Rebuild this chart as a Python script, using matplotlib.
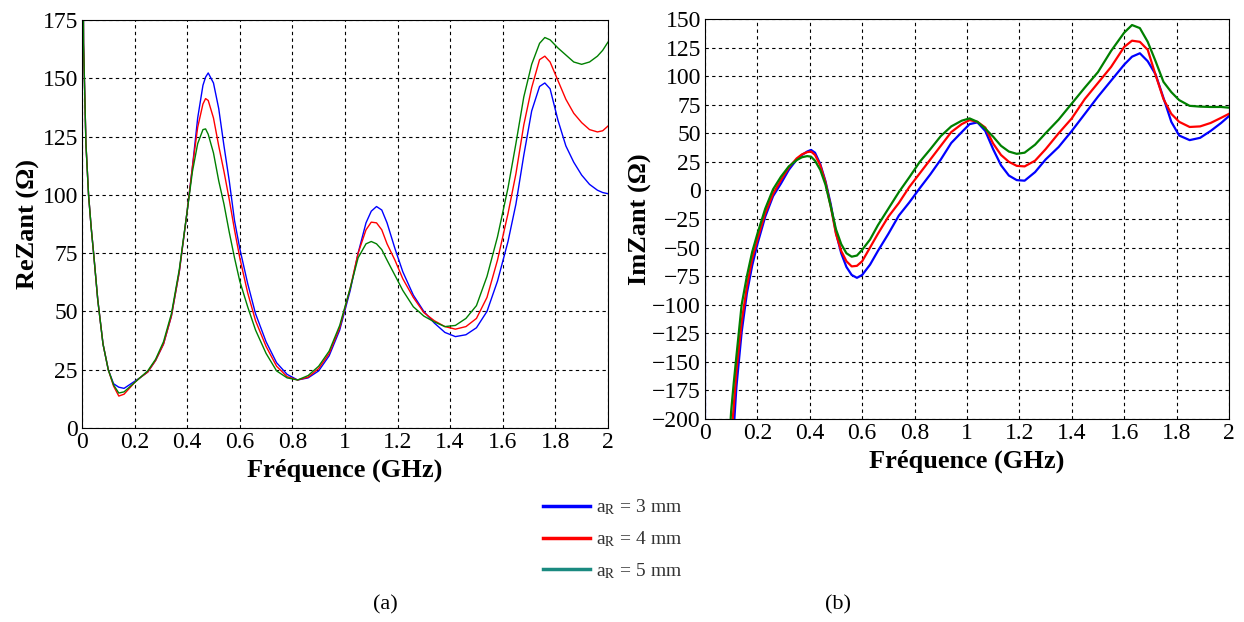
import matplotlib
matplotlib.use("Agg")
import matplotlib.pyplot as plt
from matplotlib.lines import Line2D

plt.rcParams['font.family'] = ['Liberation Serif', 'DejaVu Serif']
plt.rcParams['mathtext.fontset'] = 'stix'

# ---- data ----
series_labels = [r'a$_\mathrm{R}$ = 3 mm', r'a$_\mathrm{R}$ = 4 mm', r'a$_\mathrm{R}$ = 5 mm']
line_colors = ['#0000ff', '#ff0000', '#008000']
legend_colors = ['#0000ff', '#ff0000', '#1a8a80']

xtick_vals = [0, 0.2, 0.4, 0.6, 0.8, 1.0, 1.2, 1.4, 1.6, 1.8, 2.0]
xtick_labels = ['0', '0.2', '0.4', '0.6', '0.8', '1', '1.2', '1.4', '1.6', '1.8', '2']
re_yticks = [0, 25, 50, 75, 100, 125, 150, 175]
im_yticks = [-200, -175, -150, -125, -100, -75, -50, -25, 0, 25, 50, 75, 100, 125, 150]

# (a) real part of antenna impedance (Ohm) vs frequency (GHz)
re_freq = [0.0, 0.006, 0.015, 0.025, 0.035, 0.045, 0.06, 0.08, 0.10, 0.12,
           0.14, 0.16, 0.18, 0.20, 0.22, 0.25, 0.28, 0.31, 0.34, 0.37,
           0.40, 0.42, 0.44, 0.46, 0.47, 0.48, 0.50, 0.52, 0.54, 0.56,
           0.58, 0.60, 0.63, 0.66, 0.70, 0.74, 0.78, 0.82, 0.86, 0.90,
           0.94, 0.98, 1.02, 1.05, 1.08, 1.10, 1.12, 1.14, 1.16, 1.19,
           1.22, 1.26, 1.30, 1.34, 1.38, 1.42, 1.46, 1.50, 1.54, 1.58,
           1.62, 1.65, 1.68, 1.71, 1.74, 1.76, 1.78, 1.81, 1.84, 1.87,
           1.90, 1.93, 1.96, 1.98, 2.00]
re_3mm = [300, 165, 122, 100, 86, 74, 55, 36, 25, 19,
          17.5, 17, 18.5, 20, 21.5, 24, 29, 36, 48, 67,
          93, 112, 133, 147, 150.5, 152.3, 148, 137, 121, 106,
          89, 77, 62, 49, 37, 28, 23, 20.6, 21.5, 24.5,
          31, 42, 59, 75, 88, 93, 95, 93.5, 88, 77,
          67, 57, 50, 45, 41, 39.2, 40, 43, 50, 63,
          80, 96, 117, 136, 146.5, 148, 145.5, 132, 121, 114,
          108.5, 104.5, 102, 101, 100.5]
re_4mm = [300, 165, 122, 100, 86, 74, 55, 36, 25, 18,
          13.7, 14.5, 17, 19.5, 21.5, 24, 29, 36, 48, 67,
          93, 112, 129, 139, 141.3, 140.5, 133, 121, 110, 98,
          85, 73, 58, 46, 35, 26.5, 22, 20.6, 21.8, 25.5,
          32, 43, 60, 75, 85, 88.3, 88, 85, 79, 72,
          64, 56, 49.5, 46, 43.5, 42.4, 43.5, 47, 56, 72,
          92, 109, 130, 146, 158, 159.5, 157, 149, 141, 135,
          131, 128, 127, 127.5, 129.5]
re_5mm = [300, 165, 122, 100, 86, 74, 55, 36, 25, 18.5,
          15, 15.5, 17.5, 19.5, 21.5, 24.5, 29.5, 37, 49, 68,
          93, 110, 122, 128, 128.3, 126, 118, 106, 96, 84,
          73, 63, 52, 42, 32, 24.5, 21.5, 20.6, 22.5, 26.5,
          33, 44, 60, 73, 79, 80, 79, 76.5, 72, 65.5,
          59, 52, 48, 45.5, 43.5, 44, 47, 52.5, 65, 82,
          103, 122, 142, 156, 165, 167.5, 166.5, 163, 160, 157,
          156, 157, 159.5, 162, 165.5]

# (b) imaginary part of antenna impedance (Ohm) vs frequency (GHz)
im_freq = [0.09, 0.10, 0.11, 0.12, 0.14, 0.16, 0.18, 0.20, 0.23, 0.26,
           0.29, 0.32, 0.35, 0.37, 0.39, 0.405, 0.42, 0.44, 0.46, 0.48,
           0.50, 0.52, 0.54, 0.56, 0.58, 0.60, 0.63, 0.66, 0.70, 0.74,
           0.78, 0.82, 0.86, 0.90, 0.94, 0.98, 1.01, 1.04, 1.07, 1.10,
           1.13, 1.16, 1.19, 1.22, 1.26, 1.30, 1.35, 1.40, 1.45, 1.50,
           1.55, 1.60, 1.63, 1.66, 1.69, 1.72, 1.75, 1.78, 1.81, 1.85,
           1.89, 1.93, 1.97, 2.00]
im_3mm = [-290, -240, -208, -172, -124, -90, -66, -47, -23, -5,
          6, 18, 27, 31, 34, 35.4, 33, 23, 8, -12,
          -37, -55, -67, -74, -76.5, -74, -65, -53, -38, -22,
          -10.5, 2, 14, 27, 41.5, 51, 58, 59.5, 52, 36,
          22, 13, 9, 8.5, 16, 27, 38, 52, 67, 82,
          96, 110, 117, 120, 113, 101.5, 81, 60, 48, 44,
          46, 52, 59, 65]
im_4mm = [-260, -218, -188, -158, -115, -84, -60, -43, -20, -3,
          9, 20, 28, 31.5, 33.5, 34, 31, 22, 7, -14,
          -38, -53, -62, -66.5, -66, -62, -50, -38, -23, -11,
          3, 15, 27, 39, 51, 58, 61.5, 60, 55, 41,
          31, 25, 21.5, 21, 26, 36, 50, 63, 80, 94,
          108, 125.5, 131, 130, 123, 101, 80, 67, 60, 55.5,
          56, 59, 63.5, 67]
im_5mm = [-228, -193, -168, -145, -100, -75, -54, -38, -16, 1,
          12, 21, 26.5, 29, 30, 29.5, 26, 18, 5, -14,
          -34, -47, -55, -58, -57, -52, -43, -30.5, -16, -1.5,
          11.5, 25, 36, 47.5, 56, 61, 63, 60, 54, 47,
          39, 34, 32, 33, 40, 50, 62, 76, 90, 103.5,
          122, 138, 144.7, 142, 130, 113, 95, 86, 79, 74,
          73.3, 73, 73, 72.4]
# the 3 mm trace also runs down the y axis at f = 0
im_freq_3mm = [0.0, 0.0] + im_freq
im_3mm = [0, -400] + im_3mm

fig = plt.figure(figsize=(12.44, 6.22), dpi=100)
ax1 = fig.add_axes([0.0659, 0.3119, 0.4228, 0.6559])
ax2 = fig.add_axes([0.5667, 0.3264, 0.4212, 0.6431])

for vals, c in zip([re_3mm, re_4mm, re_5mm], line_colors):
    ax1.plot(re_freq, vals, color=c, lw=1.0)

ax2.plot(im_freq_3mm, im_3mm, color=line_colors[0], lw=1.6)
ax2.plot(im_freq, im_4mm, color=line_colors[1], lw=1.6)
ax2.plot(im_freq, im_5mm, color=line_colors[2], lw=1.6)

ax1.set_xlim(0, 2)
ax1.set_ylim(0, 175)
ax1.set_yticks(re_yticks)
ax1.set_ylabel('ReZant (Ω)', fontsize=19, fontweight='bold', labelpad=2)

ax2.set_xlim(0, 2)
ax2.set_ylim(-200, 150)
ax2.set_yticks(im_yticks)
ax2.set_ylabel('ImZant (Ω)', fontsize=19, fontweight='bold', labelpad=0)

for ax in (ax1, ax2):
    ax.set_xticks(xtick_vals)
    ax.set_xticklabels(xtick_labels)
    ax.set_xlabel('Fréquence (GHz)', fontsize=19, fontweight='bold', labelpad=4)
    ax.grid(True, color='black', linestyle=(0, (3, 3)), linewidth=0.8)
    ax.tick_params(direction='in', length=0, labelsize=17, pad=3)
    for sp in ax.spines.values():
        sp.set_color('black')
        sp.set_linewidth(0.8)

handles = [Line2D([], [], color=c, lw=2.5) for c in legend_colors]
fig.legend(handles, series_labels, loc='upper left', bbox_to_anchor=(0.4365, 0.200),
           frameon=False, fontsize=14, handlelength=2.4, handletextpad=0.3,
           labelspacing=0.62, borderpad=0, borderaxespad=0, labelcolor='#333333')

fig.text(385 / 1244, 1 - 605 / 622, '(a)', ha='center', va='center', fontsize=16)
fig.text(838 / 1244, 1 - 605 / 622, '(b)', ha='center', va='center', fontsize=16)

fig.savefig('out.png', dpi=100)
